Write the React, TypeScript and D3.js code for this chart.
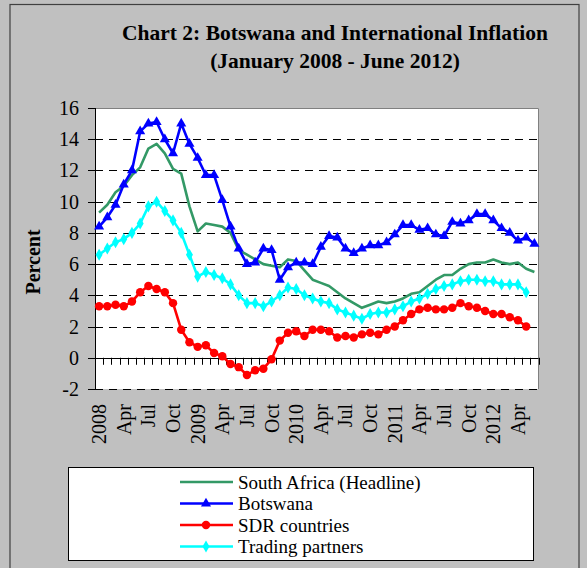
import React from 'react';
import * as d3 from 'd3';

// monthly data, Jan 2008 - Jun 2012
const xTickLabels = ['2008', 'Apr', 'Jul', 'Oct', '2009', 'Apr', 'Jul', 'Oct', '2010', 'Apr', 'Jul', 'Oct', '2011', 'Apr', 'Jul', 'Oct', '2012', 'Apr'];
const yTicks = [-2, 0, 2, 4, 6, 8, 10, 12, 14, 16];
const monthCount = 54;

const southAfrica = [9.3, 9.8, 10.6, 11.0, 11.7, 12.2, 13.4, 13.7, 13.1, 12.1, 11.8, 9.7, 8.1, 8.6, 8.5, 8.4, 8.0, 6.9, 6.6, 6.3, 6.0, 5.9, 5.8, 6.3, 6.2, 5.6, 5.0, 4.8, 4.6, 4.2, 3.8, 3.5, 3.2, 3.4, 3.6, 3.5, 3.6, 3.8, 4.1, 4.2, 4.6, 5.0, 5.3, 5.3, 5.7, 6.0, 6.1, 6.1, 6.3, 6.1, 6.0, 6.1, 5.7, 5.5];
const botswana = [8.4, 9.0, 9.8, 11.1, 12.0, 14.5, 15.0, 15.1, 14.0, 13.1, 15.0, 13.7, 12.8, 11.7, 11.7, 10.1, 8.4, 7.0, 6.0, 6.1, 7.0, 6.9, 5.0, 5.8, 6.1, 6.1, 6.0, 7.1, 7.8, 7.7, 7.0, 6.7, 7.0, 7.2, 7.2, 7.4, 7.9, 8.5, 8.5, 8.2, 8.3, 7.9, 7.8, 8.7, 8.6, 8.8, 9.2, 9.2, 8.8, 8.3, 8.0, 7.5, 7.7, 7.3];
const sdrCountries = [3.3, 3.3, 3.4, 3.3, 3.6, 4.2, 4.6, 4.4, 4.2, 3.5, 1.8, 1.0, 0.7, 0.8, 0.3, 0.1, -0.4, -0.6, -1.1, -0.8, -0.7, -0.1, 1.1, 1.6, 1.7, 1.4, 1.8, 1.8, 1.7, 1.3, 1.4, 1.3, 1.5, 1.6, 1.5, 1.8, 2.0, 2.4, 2.8, 3.1, 3.2, 3.1, 3.1, 3.2, 3.5, 3.3, 3.2, 3.0, 2.8, 2.8, 2.6, 2.4, 2.0];
const tradingPartners = [6.6, 7.0, 7.4, 7.6, 8.0, 8.6, 9.7, 10.0, 9.4, 8.8, 8.0, 6.6, 5.2, 5.5, 5.3, 5.1, 4.7, 4.0, 3.5, 3.5, 3.3, 3.6, 4.0, 4.5, 4.4, 4.0, 3.8, 3.6, 3.5, 3.1, 2.9, 2.7, 2.5, 2.8, 2.9, 2.9, 3.1, 3.3, 3.6, 3.8, 4.1, 4.4, 4.6, 4.7, 4.9, 5.0, 5.0, 4.9, 4.9, 4.7, 4.7, 4.7, 4.2];

const series = [
  { name: 'South Africa (Headline)', values: southAfrica, color: '#339966', symbol: null, size: 0 },
  { name: 'Botswana', values: botswana, color: '#0000ff', symbol: d3.symbolTriangle, size: 44 },
  { name: 'SDR countries', values: sdrCountries, color: '#ff0000', symbol: d3.symbolCircle, size: 56 },
  { name: 'Trading partners', values: tradingPartners, color: '#00ffff', symbol: d3.symbolDiamond, size: 42 },
];

const W = 587;
const H = 568;
const plot = { left: 95, right: 538.5, top: 108, bottom: 389 };
const font = "'Liberation Serif', 'Times New Roman', serif";

export default function App() {
  const x = d3.scaleBand<number>().domain(d3.range(monthCount)).range([plot.left, plot.right]);
  const cx = (i: number) => (x(i) as number) + x.bandwidth() / 2;
  const y = d3.scaleLinear().domain([-2, 16]).range([plot.bottom, plot.top]);

  const line = d3.line<number>().x((d, i) => cx(i)).y(d => y(d));
  const boundaries = d3.range(monthCount + 1).map(i => plot.left + i * x.step());

  const legendRows = [482, 503.5, 525, 546.5];

  return (
    <svg width={W} height={H} style={{ position: 'absolute', left: 0, top: 0, display: 'block' }} fontFamily={font}>
      <rect x={0} y={0} width={W} height={H} fill="#c0c0c0" />
      <rect x={10} y={4.5} width={569} height={H + 10} fill="none" stroke="#404040" strokeWidth={1.2} />

      <text x={335} y={40} textAnchor="middle" fontSize={21.5} fontWeight="bold">Chart 2: Botswana and International Inflation</text>
      <text x={335} y={68} textAnchor="middle" fontSize={21.5} fontWeight="bold">(January 2008 - June 2012)</text>

      <rect x={plot.left} y={plot.top} width={plot.right - plot.left} height={plot.bottom - plot.top} fill="#fff" />
      <path d={`M${plot.left},${plot.top + 0.5}H${plot.right}V${plot.bottom}`} fill="none" stroke="#808080" strokeWidth={1} />

      {yTicks.filter(t => t !== 0 && t !== 16).map(t => (
        <line key={t} x1={plot.left} x2={plot.right} y1={Math.round(y(t)) + 0.5} y2={Math.round(y(t)) + 0.5}
          stroke="#000" strokeDasharray="8,6" strokeWidth={1} />
      ))}

      {/* y axis */}
      <line x1={plot.left + 0.5} x2={plot.left + 0.5} y1={plot.top} y2={plot.bottom} stroke="#000" />
      {yTicks.map(t => (
        <g key={t}>
          <line x1={plot.left - 7} x2={plot.left} y1={Math.round(y(t)) + 0.5} y2={Math.round(y(t)) + 0.5} stroke="#000" />
          <text x={79} y={y(t)} dy="0.35em" textAnchor="end" fontSize={20}>{t}</text>
        </g>
      ))}
      <text transform={`translate(40,262) rotate(-90)`} textAnchor="middle" fontSize={20} fontWeight="bold">Percent</text>

      {/* x axis at zero */}
      <line x1={plot.left} x2={plot.right} y1={Math.round(y(0)) + 0.5} y2={Math.round(y(0)) + 0.5} stroke="#000" />
      {boundaries.map((b, i) => (
        <line key={i} x1={Math.round(b) + 0.5} x2={Math.round(b) + 0.5} y1={y(0)} y2={y(0) + 7} stroke="#000" />
      ))}
      {xTickLabels.map((lab, k) => (
        <text key={k} transform={`translate(${cx(k * 3)},404) rotate(-90)`} dy="0.35em" textAnchor="end" fontSize={20}>{lab}</text>
      ))}

      {series.map(s => (
        <g key={s.name}>
          <path d={line(s.values) as string} fill="none" stroke={s.color} strokeWidth={2.6} strokeLinejoin="round" />
          {s.symbol && s.values.map((v, i) => (
            <path key={i} transform={`translate(${cx(i)},${y(v)})`} d={d3.symbol().type(s.symbol as d3.SymbolType).size(s.size)() as string} fill={s.color} />
          ))}
        </g>
      ))}

      {/* legend */}
      <rect x={68.5} y={467.5} width={465} height={93} fill="#fff" stroke="#000" strokeWidth={1} />
      {series.map((s, k) => (
        <g key={s.name} transform={`translate(0,${legendRows[k]})`}>
          <line x1={180} x2={233} y1={0} y2={0} stroke={s.color} strokeWidth={2.6} />
          {s.symbol && <path transform="translate(206,0)" d={d3.symbol().type(s.symbol as d3.SymbolType).size(s.size)() as string} fill={s.color} />}
          <text x={238} y={0} dy="0.35em" fontSize={19}>{s.name}</text>
        </g>
      ))}
    </svg>
  );
}
